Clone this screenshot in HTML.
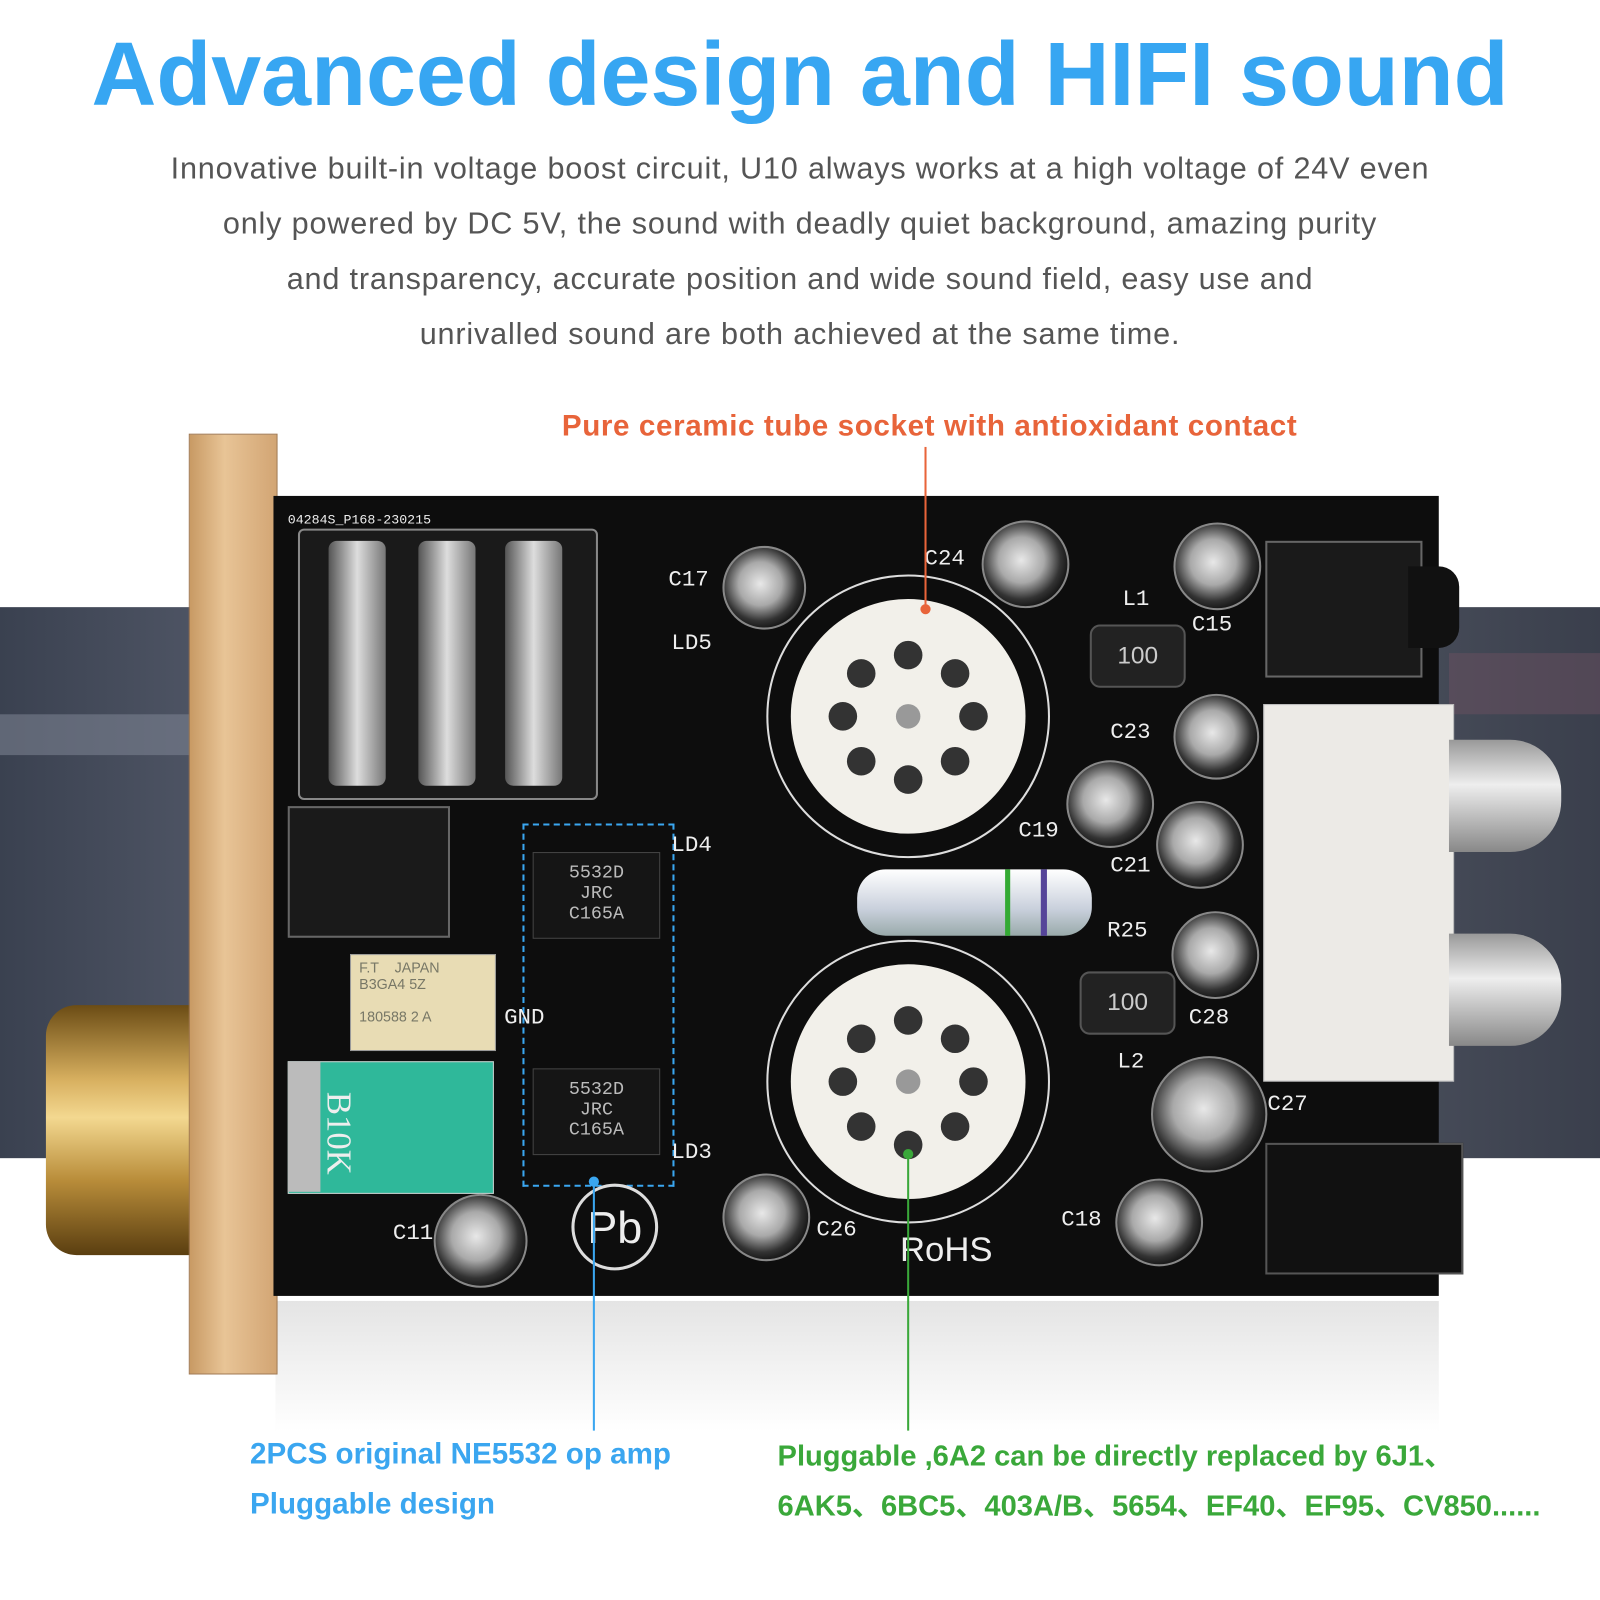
<!DOCTYPE html>
<html><head><meta charset="utf-8"><style>
html,body{margin:0;padding:0;background:#fff;width:1600px;height:1600px;overflow:hidden}
#w{position:absolute;left:0;top:0;width:1568px;height:1568px;transform:scale(1.020408);transform-origin:0 0;font-family:"Liberation Sans",sans-serif}
.a{position:absolute}
h1{position:absolute;left:0;width:1568px;top:22px;margin:0;text-align:center;font-size:88px;font-weight:bold;color:#37a6f2;letter-spacing:0px}
.p{position:absolute;left:0;width:1568px;text-align:center;color:#555;font-size:30px;letter-spacing:0.8px}
.cap{position:absolute;border-radius:50%;background:radial-gradient(circle at 45% 45%,#e8e8e8 0,#a9a9a9 35%,#333 60%,#111 75%);border:2px solid #888}
.lbl{position:absolute;color:#eee;font-size:22px;font-family:"Liberation Mono",monospace}
.chip{position:absolute;background:#151515;border:1px solid #444;color:#bbb;font-family:"Liberation Mono",monospace;font-size:18px;text-align:center}
</style></head><body><div id="w">
<h1>Advanced design and HIFI sound</h1>
<div class="p" style="top:149px">Innovative built-in voltage boost circuit, U10 always works at a high voltage of 24V even</div>
<div class="p" style="top:203px">only powered by DC 5V, the sound with deadly quiet background, amazing purity</div>
<div class="p" style="top:257px">and transparency, accurate position and wide sound field, easy use and</div>
<div class="p" style="top:311px">unrivalled sound are both achieved at the same time.</div>

<div class="a" style="left:0;top:595px;width:1568px;height:540px;background:linear-gradient(90deg,#3a4150,#5a6070 20%,#2f3644 50%,#4a4f5c 85%,#3a3f4c)"></div>
<div class="a" style="left:0;top:700px;width:190px;height:40px;background:#7a8090;opacity:.6"></div>
<div class="a" style="left:1420px;top:640px;width:148px;height:60px;background:#6a5060;opacity:.5"></div>

<div class="a" style="left:270px;top:1275px;width:1140px;height:130px;background:linear-gradient(#d8d8d8,#fff);opacity:.7"></div>

<div class="a" style="left:45px;top:985px;width:150px;height:245px;border-radius:30px 0 0 30px;background:linear-gradient(#6b4c14,#d8b060 30%,#f3d890 45%,#b98d3a 70%,#5a3e10)"></div>
<div class="a" style="left:185px;top:425px;width:85px;height:920px;background:linear-gradient(90deg,#c89a64,#e8c496 40%,#d2a574);border:1px solid #a07850"></div>

<div class="a" style="left:268px;top:486px;width:1142px;height:784px;background:#0d0d0d"></div>
<div class="lbl" style="left:282px;top:502px;font-size:13px">04284S_P168-230215</div>
<div class="a" style="left:292px;top:518px;width:290px;height:262px;background:#1a1a1a;border:2px solid #888;border-radius:6px"></div>
<div class="a" style="left:322px;top:530px;width:56px;height:240px;background:linear-gradient(90deg,#555,#ddd,#777);border-radius:8px"></div>
<div class="a" style="left:410px;top:530px;width:56px;height:240px;background:linear-gradient(90deg,#555,#ddd,#777);border-radius:8px"></div>
<div class="a" style="left:495px;top:530px;width:56px;height:240px;background:linear-gradient(90deg,#555,#ddd,#777);border-radius:8px"></div>
<div class="a" style="left:282px;top:790px;width:155px;height:125px;background:#1a1a1a;border:2px solid #666"></div>
<div class="a" style="left:343px;top:935px;width:143px;height:95px;background:#e8dcb4;border:1px solid #999;font-size:14px;color:#776;padding:4px 8px;box-sizing:border-box">F.T &nbsp;&nbsp; JAPAN<br>B3GA4 5Z<br><br>180588 2 A</div>
<div class="a" style="left:282px;top:1040px;width:200px;height:128px;background:#2fb89a;border:1px solid #ccc"></div>
<div class="a" style="left:282px;top:1040px;width:32px;height:128px;background:#bbb"></div>
<div class="a" style="top:1070px;color:#eee;font-size:34px;font-family:'Liberation Serif',serif;transform:rotate(90deg);transform-origin:0 0;left:350px">B10K</div>
<div class="a" style="left:512px;top:807px;width:145px;height:352px;border:2px dashed #3aa6f0"></div>
<div class="chip" style="left:522px;top:835px;width:125px;height:85px;padding-top:10px;box-sizing:border-box">5532D<br>JRC<br>C165A</div>
<div class="chip" style="left:522px;top:1047px;width:125px;height:85px;padding-top:10px;box-sizing:border-box">5532D<br>JRC<br>C165A</div>
<div class="lbl" style="left:494px;top:985px">GND</div>
<div class="lbl" style="left:658px;top:618px">LD5</div>
<div class="lbl" style="left:658px;top:816px">LD4</div>
<div class="lbl" style="left:658px;top:1117px">LD3</div>
<svg class="a" style="left:740px;top:560px" width="300" height="640" viewBox="0 0 300 640">
<circle cx="150" cy="142" r="138" fill="none" stroke="#ddd" stroke-width="2"/>
<circle cx="150" cy="142" r="115" fill="#f2f0ea"/>
<circle cx="150" cy="500" r="138" fill="none" stroke="#ddd" stroke-width="2"/>
<circle cx="150" cy="500" r="115" fill="#f2f0ea"/>
<g fill="#333">
<circle cx="150" cy="82" r="14"/><circle cx="196" cy="100" r="14"/><circle cx="214" cy="142" r="14"/><circle cx="196" cy="186" r="14"/><circle cx="150" cy="204" r="14"/><circle cx="104" cy="186" r="14"/><circle cx="86" cy="142" r="14"/><circle cx="104" cy="100" r="14"/>
<circle cx="150" cy="440" r="14"/><circle cx="196" cy="458" r="14"/><circle cx="214" cy="500" r="14"/><circle cx="196" cy="544" r="14"/><circle cx="150" cy="562" r="14"/><circle cx="104" cy="544" r="14"/><circle cx="86" cy="500" r="14"/><circle cx="104" cy="458" r="14"/>
</g>
<circle cx="150" cy="142" r="12" fill="#999"/><circle cx="150" cy="500" r="12" fill="#999"/>
</svg>
<div class="a" style="left:840px;top:852px;width:230px;height:65px;border-radius:28px;background:linear-gradient(#fff,#c9d0dc 60%,#9aa)"></div>
<div class="a" style="left:985px;top:852px;width:5px;height:65px;background:#3a3"></div>
<div class="a" style="left:1020px;top:852px;width:6px;height:65px;background:#549"></div>
<div class="cap" style="left:708px;top:535px;width:78px;height:78px"></div>
<div class="cap" style="left:962px;top:510px;width:82px;height:82px"></div>
<div class="cap" style="left:1150px;top:512px;width:82px;height:82px"></div>
<div class="cap" style="left:1150px;top:680px;width:80px;height:80px"></div>
<div class="cap" style="left:1045px;top:745px;width:82px;height:82px"></div>
<div class="cap" style="left:1133px;top:785px;width:82px;height:82px"></div>
<div class="cap" style="left:1148px;top:893px;width:82px;height:82px"></div>
<div class="cap" style="left:1128px;top:1035px;width:110px;height:110px"></div>
<div class="cap" style="left:708px;top:1150px;width:82px;height:82px"></div>
<div class="cap" style="left:1093px;top:1155px;width:82px;height:82px"></div>
<div class="cap" style="left:425px;top:1170px;width:88px;height:88px"></div>
<div class="a" style="left:1068px;top:612px;width:90px;height:58px;background:#222;border:2px solid #555;border-radius:10px;color:#ccc;font-size:24px;text-align:center;line-height:58px">100</div>
<div class="a" style="left:1058px;top:952px;width:90px;height:58px;background:#222;border:2px solid #555;border-radius:10px;color:#ccc;font-size:24px;text-align:center;line-height:58px">100</div>
<div class="lbl" style="left:655px;top:556px">C17</div>
<div class="lbl" style="left:906px;top:535px">C24</div>
<div class="lbl" style="left:1100px;top:575px">L1</div>
<div class="lbl" style="left:1168px;top:600px">C15</div>
<div class="lbl" style="left:1088px;top:705px">C23</div>
<div class="lbl" style="left:998px;top:802px">C19</div>
<div class="lbl" style="left:1088px;top:836px">C21</div>
<div class="lbl" style="left:1085px;top:900px">R25</div>
<div class="lbl" style="left:1165px;top:985px">C28</div>
<div class="lbl" style="left:1095px;top:1028px">L2</div>
<div class="lbl" style="left:1242px;top:1070px">C27</div>
<div class="lbl" style="left:800px;top:1193px">C26</div>
<div class="lbl" style="left:1040px;top:1183px">C18</div>
<div class="lbl" style="left:385px;top:1196px">C11</div>
<div class="a" style="left:882px;top:1206px;color:#eee;font-size:34px">RoHS</div>
<div class="a" style="left:560px;top:1160px;width:85px;height:85px;border:3px solid #ddd;border-radius:50%;color:#eee;font-size:44px;text-align:center;line-height:82px;box-sizing:border-box">Pb</div>
<div class="a" style="left:1240px;top:530px;width:150px;height:130px;background:#1a1a1a;border:2px solid #666"></div>
<div class="a" style="left:1380px;top:555px;width:50px;height:80px;background:#111;border-radius:0 20px 20px 0"></div>
<div class="a" style="left:1238px;top:690px;width:185px;height:368px;background:#eceae6;border:1px solid #bbb"></div>
<div class="a" style="left:1420px;top:725px;width:110px;height:110px;background:linear-gradient(#999,#eee 40%,#888);border-radius:0 50px 50px 0"></div>
<div class="a" style="left:1420px;top:915px;width:110px;height:110px;background:linear-gradient(#999,#eee 40%,#888);border-radius:0 50px 50px 0"></div>
<div class="a" style="left:1240px;top:1120px;width:190px;height:125px;background:#111;border:2px solid #555"></div>

<div class="a" style="left:906px;top:438px;width:2px;height:158px;background:#e8643a"></div>
<div class="a" style="left:902px;top:592px;width:10px;height:10px;border-radius:50%;background:#e8643a"></div>
<div class="a" style="left:581px;top:1158px;width:2px;height:244px;background:#3aa6f0"></div>
<div class="a" style="left:577px;top:1153px;width:10px;height:10px;border-radius:50%;background:#3aa6f0"></div>
<div class="a" style="left:889px;top:1130px;width:2px;height:272px;background:#3aa83a"></div>
<div class="a" style="left:885px;top:1126px;width:10px;height:10px;border-radius:50%;background:#3aa83a"></div>
<div class="a" style="left:450px;top:402px;width:922px;text-align:center;color:#e8643a;font-size:29px;font-weight:bold;letter-spacing:0.6px">Pure ceramic tube socket with antioxidant contact</div>
<div class="a" style="left:245px;top:1401px;color:#3aa6f0;font-size:29px;font-weight:bold;line-height:49px">2PCS original NE5532 op amp<br>Pluggable design</div>
<div class="a" style="left:762px;top:1403px;color:#3aa83a;font-size:28.5px;font-weight:bold;line-height:49px;font-family:'Liberation Sans','Noto Sans CJK SC',sans-serif">Pluggable ,6A2 can be directly replaced by 6J1、<br>6AK5、6BC5、403A/B、5654、EF40、EF95、CV850......</div>
</div></body></html>
